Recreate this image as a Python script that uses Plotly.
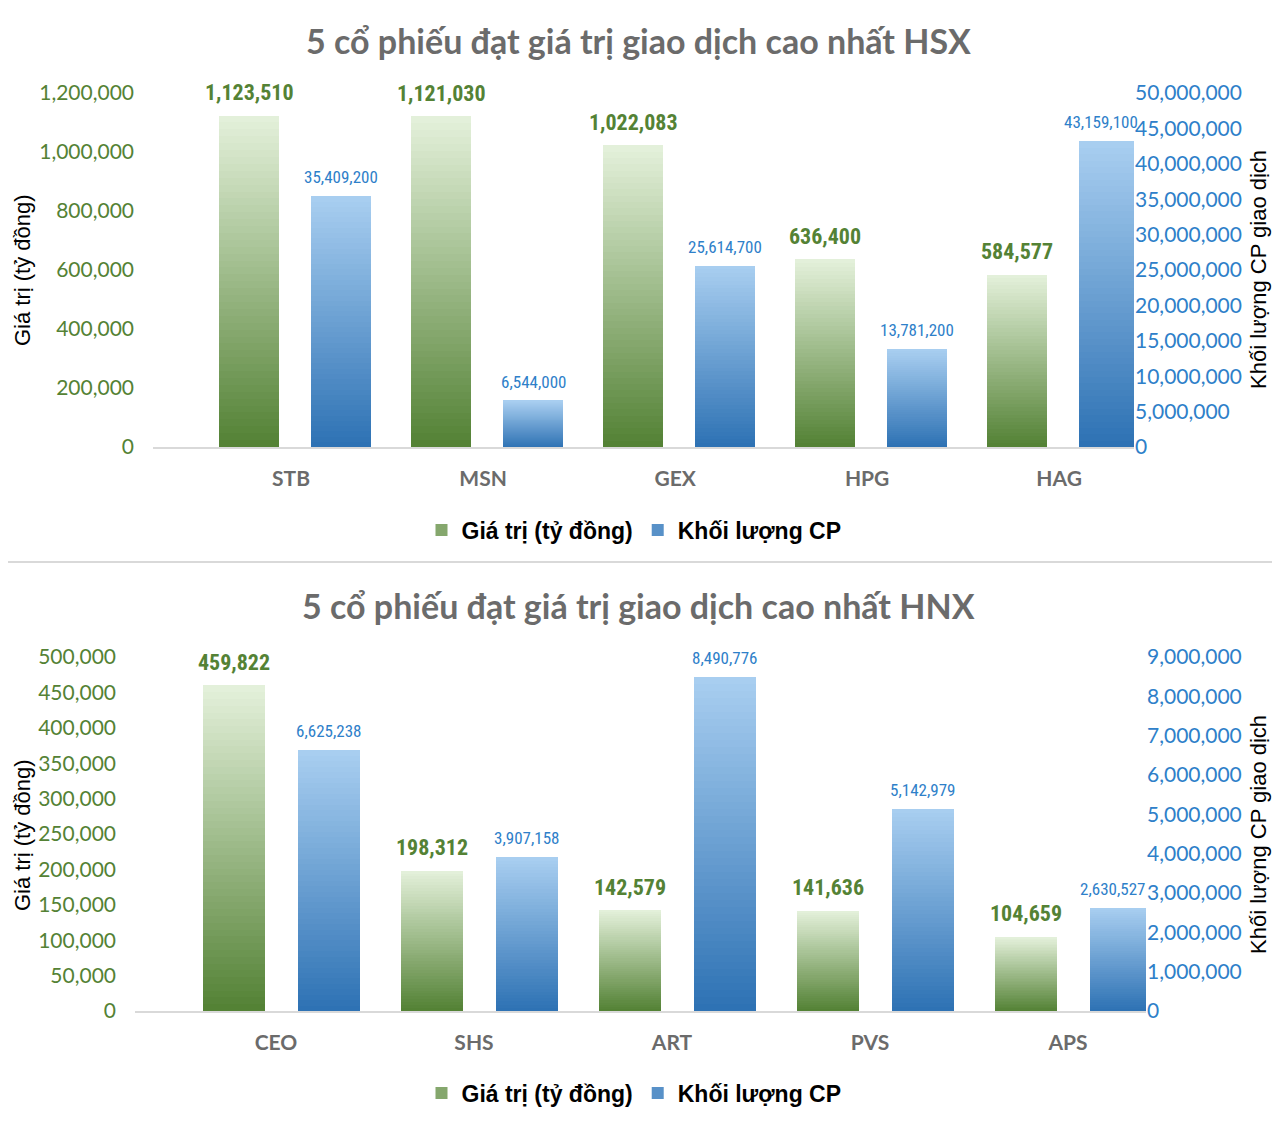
import plotly.graph_objects as go

# ---------------- data ----------------
hsx_categories = ["STB", "MSN", "GEX", "HPG", "HAG"]
hsx_value = [1123510, 1121030, 1022083, 636400, 584577]          # Giá trị (tỷ đồng)
hsx_volume = [35409200, 6544000, 25614700, 13781200, 43159100]   # Khối lượng CP

hnx_categories = ["CEO", "SHS", "ART", "PVS", "APS"]
hnx_value = [459822, 198312, 142579, 141636, 104659]
hnx_volume = [6625238, 3907158, 8490776, 5142979, 2630527]

series_names = ["Giá trị (tỷ đồng)", "Khối lượng CP"]
titles = ["5 cổ phiếu đạt giá trị giao dịch cao nhất HSX",
          "5 cổ phiếu đạt giá trị giao dịch cao nhất HNX"]
left_axis_title = "Giá trị (tỷ đồng)"
right_axis_title = "Khối lượng CP giao dịch"

# ---------------- style ----------------
OFF = 8                     # page body margin
W, H = 1280 - 2 * OFF, 1128 - 2 * OFF
GREEN_TXT = "#548235"
BLUE_TXT = "#2E80C9"
GREY_TXT = "#6B6B6B"
GREEN_TOP, GREEN_BOT = "#E3F0DA", "#548235"
BLUE_TOP, BLUE_BOT = "#A8CEF0", "#2E72B4"
NSEG = 48


def hx(c):
    c = c.lstrip("#")
    return [int(c[i:i + 2], 16) for i in (0, 2, 4)]


def mix(c_bot, c_top, t):
    a, b = hx(c_bot), hx(c_top)
    return "rgb({},{},{})".format(*[round(a[i] + (b[i] - a[i]) * t) for i in range(3)])


def fx(p):
    return (p - OFF) / W


def fy(p):
    return 1 - (p - OFF) / H


fig = go.Figure()

charts = [
    dict(cats=hsx_categories, val=hsx_value, vol=hsx_volume, xa="x", ya="y", ya2="y2",
         goff=-0.375, boff=0.105, bw=0.3125, legend="legend"),
    dict(cats=hnx_categories, val=hnx_value, vol=hnx_volume, xa="x2", ya="y3", ya2="y4",
         goff=-0.369, boff=0.11, bw=0.313, legend="legend2"),
]

annotations = []
for ci, ch in enumerate(charts):
    xs = list(range(len(ch["cats"])))
    for si, (vals, yax, off, ctop, cbot) in enumerate([
        (ch["val"], ch["ya"], ch["goff"], GREEN_TOP, GREEN_BOT),
        (ch["vol"], ch["ya2"], ch["boff"], BLUE_TOP, BLUE_BOT),
    ]):
        for k in range(NSEG):
            col = mix(cbot, ctop, k / (NSEG - 1))
            fig.add_trace(go.Bar(
                x=xs, y=[v / NSEG for v in vals], base=[v * k / NSEG for v in vals],
                offset=off, width=ch["bw"], xaxis=ch["xa"], yaxis=yax,
                marker=dict(color=col, line=dict(width=0)),
                name=series_names[si], legend=ch["legend"],
                showlegend=(k == NSEG // 3), legendgroup=f"{ci}-{si}",
                hoverinfo="skip",
            ))
        # data labels
        for i, v in enumerate(vals):
            last_blue = (si == 1 and i == len(vals) - 1)
            annotations.append(dict(
                x=i + off + ch["bw"] / 2, y=v,
                xref=ch["xa"], yref=yax, xanchor="center",
                xshift=-8 if last_blue else 0,
                text=f"{v:,}", showarrow=False, yanchor="middle",
                yshift=23 if si == 0 else 19,
                font=dict(family="Liberation Sans Narrow, Roboto Condensed, DejaVu Sans Condensed, sans-serif",
                          size=22 if si == 0 else 17,
                          color=GREEN_TXT if si == 0 else BLUE_TXT,
                          weight="bold" if si == 0 else "normal"),
            ))

# titles
for t, ypx in zip(titles, [40, 605]):
    annotations.append(dict(x=fx(638), y=fy(ypx), xref="paper", yref="paper", text=t,
                            showarrow=False, xanchor="center", yanchor="middle",
                            font=dict(family="Lato, Open Sans, sans-serif", size=34,
                                      color=GREY_TXT, weight="bold")))
# axis titles
for ypx in [270, 835]:
    annotations.append(dict(x=fx(22), y=fy(ypx), xref="paper", yref="paper", text=left_axis_title,
                            showarrow=False, textangle=-90, xanchor="center", yanchor="middle",
                            font=dict(family="Liberation Sans, Arial, sans-serif", size=22, color="black")))
    annotations.append(dict(x=fx(1258), y=fy(ypx), xref="paper", yref="paper", text=right_axis_title,
                            showarrow=False, textangle=-90, xanchor="center", yanchor="middle",
                            font=dict(family="Liberation Sans, Arial, sans-serif", size=22, color="black")))

tick_font_l = dict(family="Lato, Open Sans, sans-serif", size=21, color=GREEN_TXT)
tick_font_r = dict(family="Lato, Open Sans, sans-serif", size=21, color=BLUE_TXT)
xtick_font = dict(family="Lato, Open Sans, sans-serif", size=21, color=GREY_TXT, weight="bold")


def xaxis_cfg(cats, dom, rng, anchor):
    return dict(domain=dom, range=rng, tickmode="array", tickvals=list(range(len(cats))),
                ticktext=cats, showgrid=False, zeroline=False, showline=True,
                linecolor="#D9D9D9", linewidth=2, ticks="", tickfont=xtick_font,
                ticklabelstandoff=12, anchor=anchor, fixedrange=True, automargin=False)


def yaxis_cfg(dom, rng, dtick, font, side="left", overlaying=None, anchor="x", standoff=18):
    d = dict(range=rng, dtick=dtick, tick0=0, tickformat=",d", showgrid=False, zeroline=False,
             showline=False, ticks="", tickfont=font, side=side, anchor=anchor,
             ticklabelstandoff=standoff, fixedrange=True, automargin=False)
    if overlaying:
        d["overlaying"] = overlaying
    else:
        d["domain"] = dom
    return d


top_dom_y = [fy(447), fy(93)]
bot_dom_y = [fy(1011), fy(657)]

legend_font = dict(family="Liberation Sans, Arial, sans-serif", size=23, color="black", weight="bold")

fig.update_layout(
    template="none",
    width=W, height=H, autosize=False,
    margin=dict(l=0, r=0, t=0, b=0, pad=0),
    paper_bgcolor="white", plot_bgcolor="rgba(0,0,0,0)",
    barmode="overlay", bargap=0,
    xaxis=xaxis_cfg(hsx_categories, [fx(153), fx(1134)], [-0.719, 4.39], "y"),
    yaxis=yaxis_cfg(top_dom_y, [0, 1200000], 200000, tick_font_l, anchor="x"),
    yaxis2=yaxis_cfg(None, [0, 50000000], 5000000, tick_font_r, side="right",
                     overlaying="y", anchor="x", standoff=0),
    xaxis2=xaxis_cfg(hnx_categories, [fx(135), fx(1146)], [-0.712, 4.394], "y3"),
    yaxis3=yaxis_cfg(bot_dom_y, [0, 500000], 50000, tick_font_l, anchor="x2"),
    yaxis4=yaxis_cfg(None, [0, 9000000], 1000000, tick_font_r, side="right",
                     overlaying="y3", anchor="x2", standoff=0),
    legend=dict(orientation="h", x=fx(634), xanchor="center", y=fy(530), yanchor="middle",
                font=legend_font, bgcolor="rgba(0,0,0,0)"),
    legend2=dict(orientation="h", x=fx(634), xanchor="center", y=fy(1093), yanchor="middle",
                 font=legend_font, bgcolor="rgba(0,0,0,0)"),
    annotations=annotations,
    shapes=[dict(type="line", xref="paper", yref="paper", x0=0, x1=1, y0=fy(562), y1=fy(562),
                 line=dict(color="#D9D9D9", width=2))],
)

fig.write_html("out.html")
